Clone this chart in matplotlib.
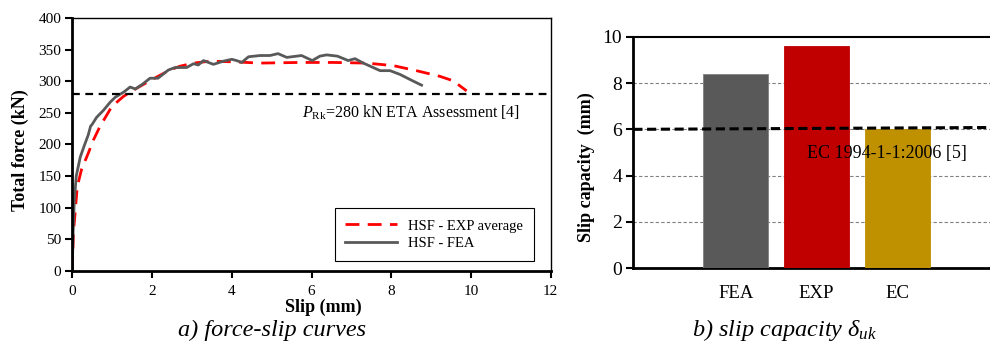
import matplotlib
matplotlib.use("Agg")
import matplotlib.pyplot as plt

plt.rcParams['font.family'] = ['Liberation Serif', 'DejaVu Serif']
plt.rcParams['mathtext.fontset'] = 'custom'
plt.rcParams['mathtext.rm'] = 'Liberation Serif'
plt.rcParams['mathtext.it'] = 'Liberation Serif:italic'
plt.rcParams['mathtext.bf'] = 'Liberation Serif:bold'

# a) force-slip curves
fea_slip = [0, 0.02, 0.05, 0.10, 0.15, 0.20, 0.30, 0.40, 0.46, 0.50, 0.61, 0.78, 0.95, 1.08,
            1.29, 1.45, 1.58, 1.75, 1.95, 2.15, 2.41, 2.58, 2.87, 3.04, 3.16, 3.29, 3.54,
            3.79, 4.00, 4.12, 4.25, 4.42, 4.71, 4.96, 5.16, 5.38, 5.75, 6.02, 6.21, 6.38,
            6.65, 6.92, 7.09, 7.30, 7.51, 7.72, 7.97, 8.22, 8.47, 8.76]
fea_force = [0, 60, 110, 150, 165, 180, 198, 215, 229, 232, 243, 254, 267, 275,
             283, 291, 288, 295, 305, 305, 318, 322, 322, 328, 326, 333, 327,
             332, 335, 333, 330, 339, 341, 341, 344, 338, 341, 333, 340, 342,
             340, 333, 336, 329, 323, 317, 317, 311, 303, 294]

exp_slip = [0, 0.03, 0.07, 0.125, 0.23, 0.40, 0.53, 0.69, 0.99, 1.28, 1.45, 1.75, 2.12,
            2.45, 2.70, 3.04, 3.46, 4.04, 4.71, 5.71, 6.55, 7.38, 8.05, 8.63, 9.22,
            9.55, 9.89]
exp_force = [0, 60, 91, 133, 160, 186, 207, 228, 260, 276, 283, 294, 307,
             318, 324, 329, 332, 331, 329, 330, 330, 329, 325, 317, 308,
             301, 285]

p_rk = 280

# b) slip capacity
cats = ['FEA', 'EXP', 'EC']
slip_cap = [8.4, 9.6, 6.0]
bar_colors = ['#595959', '#C00000', '#BF9000']
ec_line = [6.0, 6.08]

fig = plt.figure(figsize=(9.9, 3.45), dpi=100)

# ---- left chart
ax1 = fig.add_axes([0.0730, 0.2154, 0.4833, 0.7316])
ax1.plot(exp_slip, exp_force, color='#FF0000', lw=2.0, dashes=(5, 3), label='HSF - EXP average')
ax1.plot(fea_slip, fea_force, color='#595959', lw=2.0, label='HSF - FEA')
ax1.axhline(p_rk, color='black', lw=1.6, dashes=(3.5, 2.5))
ax1.text(5.76, 251, r'$P_{\rm Rk}$=280 kN ETA Assessment [4]', fontsize=11.5, va='center', ha='left')
ax1.set_xlim(0, 12)
ax1.set_ylim(0, 400)
ax1.set_xticks(range(0, 13, 2))
ax1.set_yticks(range(0, 401, 50))
ax1.tick_params(direction='out', length=5, width=1.5, labelsize=11)
ax1.tick_params(axis='x', pad=5)
ax1.tick_params(axis='y', pad=3)
for s in ['left', 'bottom']:
    ax1.spines[s].set_linewidth(2)
for s in ['top', 'right']:
    ax1.spines[s].set_linewidth(1)
leg = ax1.legend(loc='lower right', bbox_to_anchor=(0.965, 0.038), fontsize=10.5,
                 frameon=True, fancybox=False, edgecolor='black', framealpha=1,
                 handlelength=3.5, borderpad=0.75, labelspacing=0.3, borderaxespad=0)
leg.get_frame().set_linewidth(0.8)
fig.text(20 / 990, 1 - 150 / 345, 'Total force (kN)', rotation=90, ha='center', va='center',
         fontsize=13, fontweight='bold')
fig.text(323 / 990, 1 - 307 / 345, 'Slip (mm)', ha='center', va='center',
         fontsize=13, fontweight='bold')
fig.text(272 / 990, 1 - 330 / 345, 'a) force-slip curves', ha='center', va='center',
         fontsize=17.5, style='italic')

# ---- right chart
ax2 = fig.add_axes([0.6397, 0.2223, 1.0 - 0.6397, 0.6713])
x = [1, 2, 3]
ax2.bar(x, slip_cap, width=0.805, color=bar_colors, edgecolor=['#7F7F7F', '#C00000', '#BF9000'],
        linewidth=0.6, zorder=3)
xl = (-0.27, 4.15)
ax2.plot(xl, ec_line, color='black', lw=2.2, dashes=(3, 1.5), zorder=4)
ax2.text(1.88, 4.95, 'EC 1994-1-1:2006 [5]', fontsize=13, ha='left', va='center', zorder=5)
ax2.set_xlim(*xl)
ax2.set_ylim(0, 10)
ax2.set_yticks(range(0, 11, 2))
ax2.set_xticks(x)
ax2.set_xticklabels(cats)
for yv in [2, 4, 6, 8]:
    ax2.axhline(yv, color='#808080', lw=0.8, dashes=(3, 2), zorder=1)
ax2.tick_params(axis='y', direction='out', length=5, width=1.5, labelsize=14, pad=3)
ax2.tick_params(axis='x', length=0, labelsize=13.5, pad=12)
ax2.spines['right'].set_visible(False)
ax2.spines['left'].set_linewidth(2)
ax2.spines['bottom'].set_linewidth(2)
ax2.spines['top'].set_linewidth(1.5)
fig.text(586.5 / 990, 1 - 166.7 / 345, 'Slip capacity  (mm)', rotation=90, ha='center',
         va='center', fontsize=13, fontweight='bold')
fig.text(785 / 990, 1 - 330 / 345, r'b) slip capacity $\delta_{uk}$', ha='center', va='center',
         fontsize=17.5, style='italic')

fig.savefig('out.png', dpi=100)
